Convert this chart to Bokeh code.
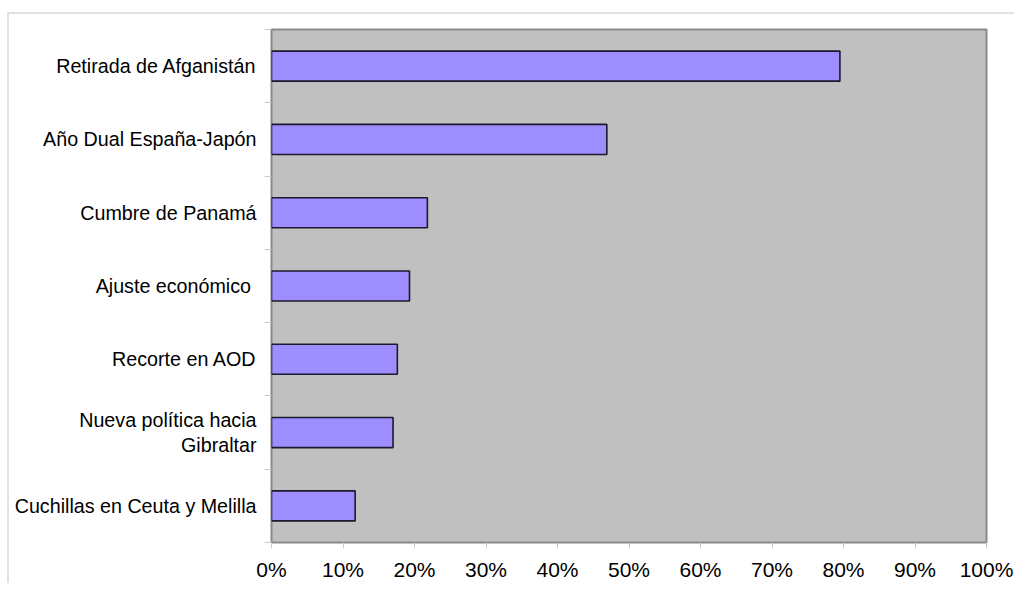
from bokeh.plotting import figure
from bokeh.models import Range1d, FixedTicker, NumeralTickFormatter, ColumnDataSource
from bokeh.embed import file_html
from bokeh.resources import INLINE

categories = [
    "Retirada de Afganistán",
    "Año Dual España-Japón",
    "Cumbre de Panamá",
    "Ajuste económico ",
    "Recorte en AOD",
    "Nueva política hacia\nGibraltar",
    "Cuchillas en Ceuta y Melilla",
]
values = [0.795, 0.469, 0.218, 0.193, 0.176, 0.170, 0.117]
x_ticks = [0.0, 0.1, 0.2, 0.3, 0.4, 0.5, 0.6, 0.7, 0.8, 0.9, 1.0]

n = len(categories)
pos = [n - 0.5 - i for i in range(n)]
src = ColumnDataSource(dict(y=pos, v=values, cat=categories))

p = figure(
    width=1005, height=578,
    frame_width=715, frame_height=513,
    min_border_left=262, min_border_top=15, min_border_right=28, min_border_bottom=40,
    x_range=Range1d(0, 1), y_range=Range1d(0, n),
    output_backend="svg", toolbar_location=None,
    background_fill_color="#c0c0c0", border_fill_color="white",
)
p.styles = {"border-top": "2px solid #e2e2e2", "border-left": "2px solid #e2e2e2",
            "margin-top": "12px", "margin-left": "7px"}

p.hbar(y="y", left=0, right="v", height=0.41, source=src,
       fill_color="#9d8dff", line_color="#1a1a2e", line_width=1.6)

p.grid.visible = False
p.outline_line_color = "#8a8a8a"
p.outline_line_width = 2

# x axis
xa = p.xaxis[0]
xa.ticker = FixedTicker(ticks=x_ticks, minor_ticks=[])
xa.formatter = NumeralTickFormatter(format="0%")
xa.axis_line_color = None
xa.major_tick_line_color = "#c8c8c8"
xa.major_tick_in = 0
xa.major_tick_out = 6
xa.minor_tick_line_color = None
xa.major_label_text_font = "Liberation Sans"
xa.major_label_text_font_size = "21px"
xa.major_label_text_color = "black"
xa.major_label_standoff = 9

# y axis
ya = p.yaxis[0]
ya.ticker = FixedTicker(ticks=pos, minor_ticks=list(range(n + 1)))
ya.major_label_overrides = {pos[i]: categories[i] for i in range(n)}
ya.axis_line_color = None
ya.major_tick_line_color = None
ya.minor_tick_line_color = "#c8c8c8"
ya.minor_tick_in = 0
ya.minor_tick_out = 7
ya.major_label_text_font = "Liberation Sans"
ya.major_label_text_font_size = "19.7px"
ya.major_label_text_color = "black"
ya.major_label_standoff = 8
ya.major_label_text_align = "right"
ya.major_label_text_line_height = 1.1

open("out.html", "w").write(file_html(p, INLINE))
